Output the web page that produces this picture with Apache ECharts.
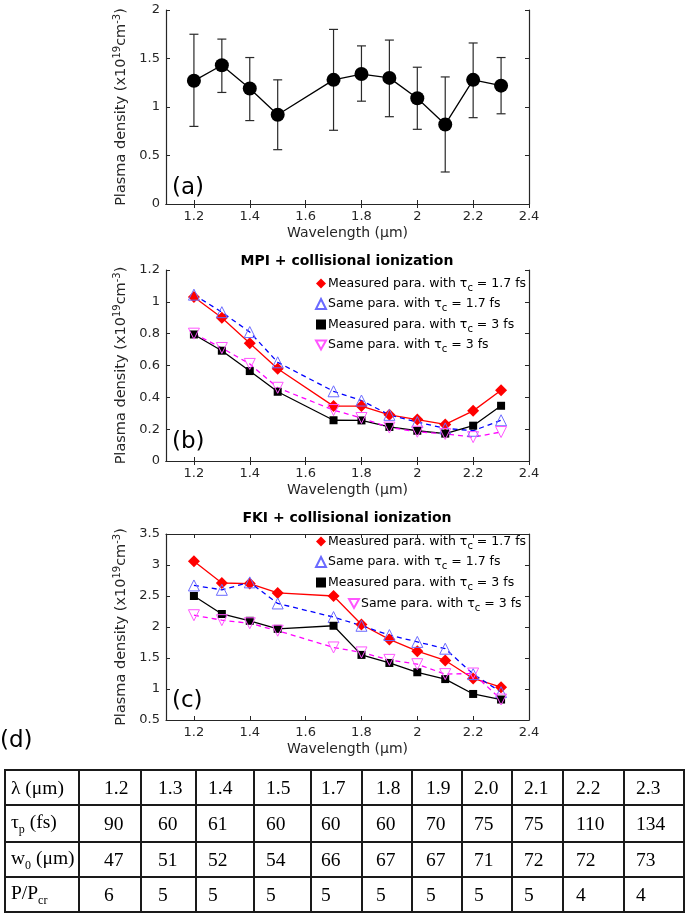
<!DOCTYPE html>
<html>
<head>
<meta charset="utf-8">
<script src="https://cdn.jsdelivr.net/npm/echarts@6/dist/echarts.min.js"></script>
<style>
  body { margin: 0; background: #fff; }
  #main { position: absolute; left: 0; top: 0; width: 685px; height: 913px; }
  #tbl {
    position: absolute; left: 4px; top: 769px; width: 679px;
    border-collapse: collapse; table-layout: fixed;
    font-family: 'Liberation Serif', 'Times New Roman', serif; font-size: 19.5px; color: #000;
  }
  #tbl td { box-sizing: border-box; border: 2px solid #1a1a1a; padding: 0; white-space: nowrap; overflow: hidden; }
  #tbl sub { font-size: 12px; }
</style>
</head>
<body>
<div id="main"></div>
<table id="tbl"></table>
<script>
// wavelength (um)
var wavelength = [1.2, 1.3, 1.4, 1.5, 1.7, 1.8, 1.9, 2.0, 2.1, 2.2, 2.3]
var xTicks = [1.2, 1.4, 1.6, 1.8, 2.0, 2.2, 2.4]

// (a) measured plasma density with error bars
var densA = [1.27, 1.43, 1.19, 0.92, 1.28, 1.34, 1.30, 1.09, 0.82, 1.28, 1.22]
var errLow = [0.80, 1.15, 0.86, 0.56, 0.76, 1.06, 0.90, 0.77, 0.33, 0.89, 0.93]
var errHigh = [1.75, 1.70, 1.51, 1.28, 1.80, 1.63, 1.69, 1.41, 1.31, 1.66, 1.51]

// (b) MPI + collisional ionization
var mpiMeas17 = [1.03, 0.90, 0.74, 0.58, 0.345, 0.345, 0.29, 0.26, 0.23, 0.315, 0.445]
var mpiSame17 = [1.045, 0.935, 0.81, 0.62, 0.438, 0.38, 0.29, 0.245, 0.205, 0.19, 0.256]
var mpiMeas3 = [0.795, 0.693, 0.565, 0.435, 0.256, 0.255, 0.214, 0.19, 0.172, 0.222, 0.347]
var mpiSame3 = [0.80, 0.71, 0.61, 0.46, 0.32, 0.27, 0.21, 0.184, 0.17, 0.15, 0.182]

// (c) FKI + collisional ionization
var fkiMeas17 = [3.06, 2.71, 2.70, 2.55, 2.50, 2.04, 1.80, 1.61, 1.46, 1.17, 1.03]
var fkiSame17 = [2.67, 2.60, 2.72, 2.38, 2.16, 2.02, 1.87, 1.76, 1.65, 1.24, 0.95]
var fkiMeas3 = [2.50, 2.21, 2.10, 1.97, 2.02, 1.55, 1.42, 1.27, 1.16, 0.92, 0.83]
var fkiSame3 = [2.19, 2.11, 2.06, 1.94, 1.67, 1.59, 1.47, 1.40, 1.24, 1.25, 0.83]

var seriesNames = [
  'Measured para. with τc = 1.7 fs',
  'Same para. with τc = 1.7 fs',
  'Measured para. with τc = 3 fs',
  'Same para. with τc = 3 fs'
]

// (d) table
var tableLambda = ['1.2', '1.3', '1.4', '1.5', '1.7', '1.8', '1.9', '2.0', '2.1', '2.2', '2.3']
var tablePulse = [90, 60, 61, 60, 60, 60, 70, 75, 75, 110, 134]
var tableWaist = [47, 51, 52, 54, 66, 67, 67, 71, 72, 72, 73]
var tablePower = [6, 5, 5, 5, 5, 5, 5, 5, 5, 4, 4]

var colWidths = [74, 62, 55, 58, 57, 51, 50, 50, 50, 51, 61, 60]
var colPad = [5, 24, 16, 11, 11, 9, 13, 13, 11, 11, 12, 11]
var rowHeights = [35, 37, 35, 35]

var rows = [
  ['λ (μm)'].concat(tableLambda),
  ['τ<sub>p</sub> (fs)'].concat(tablePulse),
  ['w<sub>0</sub> (μm)'].concat(tableWaist),
  ['P/P<sub>cr</sub>'].concat(tablePower)
]
var html = ''
rows.forEach(function (r, i) {
  html += '<tr style="height:' + rowHeights[i] + 'px">'
  r.forEach(function (c, j) {
    html += '<td style="width:' + colWidths[j] + 'px;padding-left:' + colPad[j] + 'px">' + c + '</td>'
  })
  html += '</tr>'
})
document.getElementById('tbl').innerHTML = html

var FONT = 'DejaVu Sans'
var AX = '#262626'
var pair = function (ys) { return wavelength.map(function (x, i) { return [x, ys[i]] }) }

var grids = [
  { left: 166, width: 363, top: 10, height: 194 },
  { left: 166, width: 363, top: 270, height: 191 },
  { left: 166, width: 363, top: 534, height: 186 }
]
var yRanges = [[0, 2, 0.5], [0, 1.2, 0.2], [0.5, 3.5, 0.5]]

var xAxes = [], yAxes = []
grids.forEach(function (g, i) {
  var tick = { inside: true, length: 4, lineStyle: { color: AX }, customValues: xTicks }
  xAxes.push({
    type: 'value', gridIndex: i, min: 1.1, max: 2.4,
    name: 'Wavelength (μm)', nameLocation: 'middle', nameGap: 22,
    nameTextStyle: { fontFamily: FONT, fontSize: 14, color: AX },
    axisLine: { lineStyle: { color: AX, width: 1.2 } },
    axisTick: tick,
    axisLabel: { customValues: xTicks, fontFamily: FONT, fontSize: 13, color: AX, margin: 6 },
    splitLine: { show: false }
  })
  xAxes.push({
    type: 'value', gridIndex: i, min: 1.1, max: 2.4, position: 'top',
    axisLine: { lineStyle: { color: AX, width: 1.2 } },
    axisTick: tick, axisLabel: { show: false }, splitLine: { show: false }
  })
  var yr = yRanges[i]
  yAxes.push({
    type: 'value', gridIndex: i, min: yr[0], max: yr[1], interval: yr[2],
    name: 'Plasma density (x10{sup|19}cm{sup|-3})', nameLocation: 'middle', nameGap: 33,
    nameTextStyle: {
      fontFamily: FONT, fontSize: 14.5, color: AX,
      rich: { sup: { fontFamily: FONT, fontSize: 10, color: AX, padding: [0, 0, 8, 0] } }
    },
    axisLine: { show: true, lineStyle: { color: AX, width: 1.2 } },
    axisTick: { show: true, inside: true, length: 4, lineStyle: { color: AX } },
    axisLabel: { fontFamily: FONT, fontSize: 13, color: AX, margin: 6 },
    splitLine: { show: false }
  })
  yAxes.push({
    type: 'value', gridIndex: i, min: yr[0], max: yr[1], interval: yr[2], position: 'right',
    axisLine: { show: true, lineStyle: { color: AX, width: 1.2 } },
    axisTick: { show: true, inside: true, length: 4, lineStyle: { color: AX } },
    axisLabel: { show: false }, splitLine: { show: false }
  })
})

var styles = [
  { line: '#ff0000', type: 'solid', symbol: 'diamond', size: 12, rotate: 0, fill: '#ff0000', border: '#ff0000' },
  { line: '#0000ff', type: [5, 4], symbol: 'triangle', size: 11, rotate: 0, fill: 'rgba(0,0,0,0)', border: '#6a6aff' },
  { line: '#000000', type: 'solid', symbol: 'rect', size: 8, rotate: 0, fill: '#000000', border: '#000000' },
  { line: '#ff00ff', type: [5, 4], symbol: 'triangle', size: 11, rotate: 180, fill: 'rgba(0,0,0,0)', border: '#ff55ff' }
]

function simSeries(gi, arrays) {
  return arrays.map(function (ys, k) {
    var s = styles[k]
    return {
      name: seriesNames[k], type: 'line', xAxisIndex: gi * 2, yAxisIndex: gi * 2,
      data: pair(ys), symbol: s.symbol, symbolSize: s.size, symbolRotate: s.rotate,
      showAllSymbol: true, animation: false,
      lineStyle: { color: s.line, width: 1.3, type: s.type },
      itemStyle: { color: s.fill, borderColor: s.border, borderWidth: s.fill === '#ff0000' || s.fill === '#000000' ? 0 : 1 },
      emphasis: { disabled: true }
    }
  })
}

var errData = wavelength.map(function (x, i) { return [x, densA[i], errLow[i], errHigh[i]] })

var series = [
  {
    type: 'custom', xAxisIndex: 0, yAxisIndex: 0, data: errData, animation: false,
    renderItem: function (params, api) {
      var x = api.value(0)
      var lo = api.coord([x, api.value(2)])
      var hi = api.coord([x, api.value(3)])
      var w = 4.5
      var st = { stroke: '#2a2a2a', lineWidth: 1.2 }
      return {
        type: 'group', children: [
          { type: 'line', shape: { x1: lo[0], y1: lo[1], x2: hi[0], y2: hi[1] }, style: st },
          { type: 'line', shape: { x1: lo[0] - w, y1: lo[1], x2: lo[0] + w, y2: lo[1] }, style: st },
          { type: 'line', shape: { x1: hi[0] - w, y1: hi[1], x2: hi[0] + w, y2: hi[1] }, style: st }
        ]
      }
    }
  },
  {
    type: 'line', xAxisIndex: 0, yAxisIndex: 0, data: pair(densA), animation: false,
    symbol: 'circle', symbolSize: 14,
    lineStyle: { color: '#000', width: 1.3 }, itemStyle: { color: '#000' }
  }
].concat(simSeries(1, [mpiMeas17, mpiSame17, mpiMeas3, mpiSame3]))
 .concat(simSeries(2, [fkiMeas17, fkiSame17, fkiMeas3, fkiSame3]))

var icons = ['diamond', 'triangle', 'rect', 'path://M0,0 L10,0 L5,9 Z']
var legendText = {
  fontFamily: FONT, fontSize: 12.5, color: '#000', padding: [0, 0, 0, -3],
  rich: { s: { fontFamily: FONT, fontSize: 10, color: '#000', padding: [9, 0, 0, 0] } }
}
var legendFmt = function (name) { return name.replace('τc', 'τ{s|c}') }
function legendData(idx) { return idx.map(function (k) { return { name: seriesNames[k], icon: icons[k] } }) }

var legends = [
  { data: legendData([0, 1, 2, 3]), left: 315, top: 277, orient: 'vertical', itemGap: 4.5 },
  { data: legendData([0, 1, 2]), left: 315, top: 535, orient: 'vertical', itemGap: 4.5 },
  { data: legendData([3]), left: 348, top: 597, orient: 'vertical' }
].map(function (l) {
  return Object.assign(l, {
    itemWidth: 10, itemHeight: 10, itemGap: l.itemGap || 4, padding: 0,
    textStyle: legendText, formatter: legendFmt, selectedMode: false
  })
})

var chart = echarts.init(document.getElementById('main'))
chart.setOption({
  animation: false,
  grid: grids,
  xAxis: xAxes,
  yAxis: yAxes,
  legend: legends,
  series: series,
  graphic: [
    { type: 'text', x: 172, y: 188, style: { text: '(a)', font: '23px "DejaVu Sans"', fill: '#000', verticalAlign: 'middle' } },
    { type: 'text', x: 172, y: 442, style: { text: '(b)', font: '23px "DejaVu Sans"', fill: '#000', verticalAlign: 'middle' } },
    { type: 'text', x: 172, y: 701, style: { text: '(c)', font: '23px "DejaVu Sans"', fill: '#000', verticalAlign: 'middle' } },
    { type: 'text', x: 0, y: 741, style: { text: '(d)', font: '23px "DejaVu Sans"', fill: '#000', verticalAlign: 'middle' } },
    { type: 'text', x: 347, y: 261, style: { text: 'MPI + collisional ionization', font: 'bold 14px "DejaVu Sans"', fill: '#000', align: 'center', verticalAlign: 'middle' } },
    { type: 'text', x: 347, y: 518, style: { text: 'FKI + collisional ionization', font: 'bold 14px "DejaVu Sans"', fill: '#000', align: 'center', verticalAlign: 'middle' } }
  ]
})
</script>
</body>
</html>
